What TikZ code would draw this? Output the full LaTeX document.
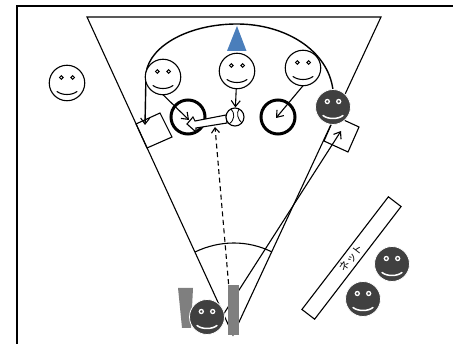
\documentclass[tikz,border=0pt]{standalone}
\usepackage{fontspec}
\newfontfamily\cjkjp{Noto Sans CJK JP}
\usetikzlibrary{arrows.meta}
\definecolor{darkface}{HTML}{404040}
\definecolor{bluetri}{HTML}{4A7EBB}
\definecolor{grayobj}{HTML}{7F7F7F}
\tikzset{
  line/.style={draw=black,line width=1.1pt},
  barb/.style={line,-{Straight Barb[length=6pt,width=9pt,line width=1.1pt]}},
  lightface/.style={circle,draw=black,line width=1.1pt,fill=white,minimum size=35.5pt,inner sep=0pt,outer sep=0pt},
  darkbody/.style={circle,draw=white,line width=0.8pt,fill=darkface,minimum size=35pt,inner sep=0pt,outer sep=0pt},
  target/.style={circle,draw=black,line width=3pt,fill=white,minimum size=34pt,inner sep=0pt,outer sep=0pt},
  zonebox/.style={line,fill=white},
}
\newcommand{\lightsmile}[3]{%
  \node[lightface] (#1) at (#2,#3) {};
  \begin{scope}[shift={(#2,#3)}]
    \draw[black,line width=1pt,fill=white] (-5.7,-5.5) circle (1.8) (5.7,-5.5) circle (1.8);
    \draw[black,line width=1.1pt,line cap=round] (-10,8.5) .. controls (-5,12.5) and (5,12.5) .. (10,8.5);
  \end{scope}}
\newcommand{\darksmile}[3]{%
  \node[darkbody] (#1) at (#2,#3) {};
  \begin{scope}[shift={(#2,#3)}]
    \draw[white,line width=1.3pt,fill=darkface] (-5.7,-5.5) circle (2) (5.7,-5.5) circle (2);
    \draw[white,line width=1.5pt,line cap=round] (-10,8.5) .. controls (-5,12.5) and (5,12.5) .. (10,8.5);
  \end{scope}}
\begin{document}
\begin{tikzpicture}[x=1pt,y=-1pt]
\useasboundingbox (0,0) rectangle (453,344);
% frame
\draw[black,line width=1.7pt] (17,344) -- (17,6) -- (453,6);
% coordinates
\coordinate (apex) at (233,335);
\coordinate (tl) at (87,17);
\coordinate (tr) at (381,17);
\coordinate (shotstart) at (223,315);
\coordinate (shotend) at (341,131);
\coordinate (dashend) at (215,127);
\coordinate (arcR) at (333,90);
\coordinate (arcT) at (237,24);
\coordinate (arcL) at (146,73);
\coordinate (arcEnd) at (145,125);
\coordinate (ang1) at (195,252);
\coordinate (ang2) at (272,252);
% zone boxes
\draw[zonebox] (136,124) -- (160,113) -- (172,137) -- (147,148) -- cycle;
\draw[zonebox] (335,116) -- (359,127) -- (348,152) -- (324,141) -- cycle;
% sector
\draw[line] (apex) -- (tl) -- (tr) -- cycle;
\draw[line] (ang1) .. controls (220,240) and (248,240) .. (ang2);
% targets
\node[target] (t1) at (188,117) {};
\node[target] (t2) at (278,117) {};
% long lines
\draw[barb] (shotstart) -- (shotend);
\draw[line,dash pattern=on 5pt off 3.5pt,-{Straight Barb[length=5pt,width=8pt,line width=1.1pt]}] (apex) -- (dashend);
% arc
\draw[barb,line width=1.4pt] (arcR) .. controls (328,50) and (285,24) .. (arcT)
  .. controls (190,24) and (150,45) .. (arcL) -- (arcEnd);
% triangle
\fill[bluetri] (237,26) -- (246.5,51) -- (227,51) -- cycle;
% ball and block arrow
\draw[line,fill=white] (226,115) -- (195,121) -- (193,117) -- (187,124) -- (196,132) -- (196,128) -- (227,123) -- cycle;
\node[circle,draw=black,line width=1.1pt,fill=white,minimum size=18pt,inner sep=0pt] (ball) at (235,117) {};
\draw[black,line width=0.8pt] (231,109) .. controls (235,113) and (235,120) .. (229,124);
\draw[black,line width=0.8pt] (239,109) .. controls (236,113) and (238,120) .. (242,123);
% gray objects
\fill[grayobj] (178,288) -- (193,288) -- (191,328) -- (182,328) -- cycle;
\fill[grayobj] (228,285) rectangle (239,335);
% faces
\lightsmile{f0}{67}{83}
\lightsmile{f1}{163}{77}
\lightsmile{f2}{237}{71}
\lightsmile{f3}{303}{68}
\darksmile{d1}{333}{107}
\darksmile{d2}{207}{317}
\darksmile{d3}{392}{264}
\darksmile{d4}{363}{299}
% connectors
\draw[barb] (f1.south) -- (189,120);
\draw[barb] (f2) -- (ball);
\draw[barb] (f3.south) -- (276,118);
% net
\node[draw=black,line width=1.1pt,fill=white,minimum width=142pt,minimum height=16pt,inner sep=0pt,rotate=52.5] (net) at (351.5,258) {\cjkjp\fontsize{10.5}{10.5}\selectfont ネット};
\end{tikzpicture}
\end{document}
